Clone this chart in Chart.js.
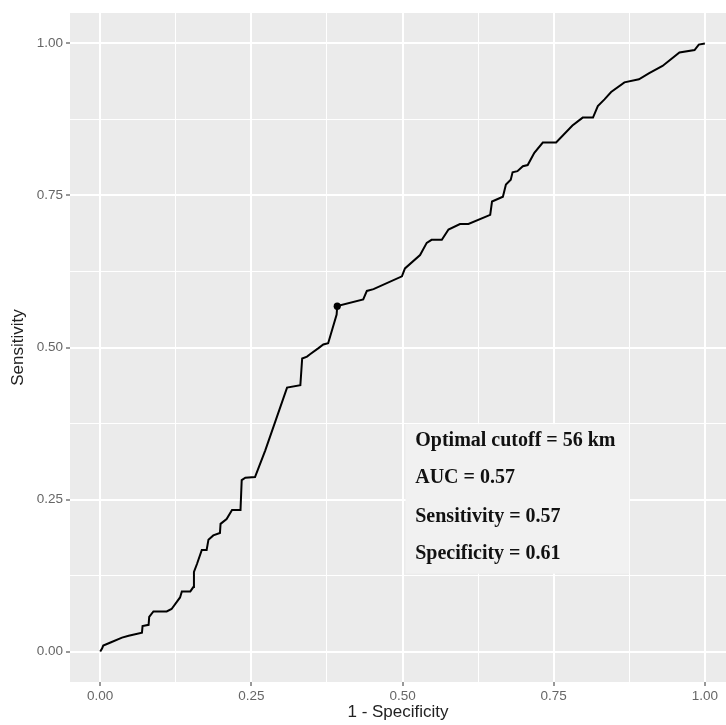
<!DOCTYPE html>
<html><head><meta charset="utf-8">
<script src="https://cdn.jsdelivr.net/npm/chart.js@4.4.1/dist/chart.umd.min.js"></script>
<style>html,body{margin:0;padding:0;background:#fff;overflow:hidden}#wrap{width:726px;height:725px;position:relative;overflow:hidden}</style>
</head><body><div id="wrap"><canvas id="c" width="730" height="725"></canvas></div>
<script>
// ROC curve: 1 - specificity (x) and sensitivity (y)
const fpr = [0, 0.003, 0.005, 0.017, 0.036, 0.047, 0.069, 0.070, 0.080, 0.081, 0.088, 0.110, 0.118, 0.132, 0.135, 0.149, 0.154, 0.155, 0.160, 0.168, 0.176, 0.179, 0.187, 0.198, 0.199, 0.209, 0.218, 0.232, 0.234, 0.240, 0.256, 0.273, 0.309, 0.331, 0.334, 0.342, 0.347, 0.361, 0.369, 0.377, 0.391, 0.392, 0.435, 0.441, 0.452, 0.499, 0.504, 0.529, 0.540, 0.548, 0.565, 0.576, 0.595, 0.609, 0.645, 0.648, 0.666, 0.671, 0.679, 0.682, 0.690, 0.699, 0.707, 0.718, 0.732, 0.754, 0.781, 0.798, 0.815, 0.823, 0.834, 0.845, 0.867, 0.891, 0.908, 0.930, 0.958, 0.983, 0.990, 1.0];
const tpr = [0, 0.005, 0.010, 0.015, 0.023, 0.026, 0.031, 0.042, 0.044, 0.057, 0.066, 0.066, 0.070, 0.089, 0.099, 0.099, 0.106, 0.131, 0.144, 0.167, 0.167, 0.184, 0.191, 0.195, 0.210, 0.218, 0.233, 0.233, 0.282, 0.286, 0.287, 0.331, 0.434, 0.438, 0.482, 0.485, 0.489, 0.499, 0.505, 0.507, 0.554, 0.568, 0.579, 0.593, 0.596, 0.617, 0.630, 0.652, 0.672, 0.677, 0.677, 0.694, 0.703, 0.703, 0.718, 0.740, 0.748, 0.768, 0.776, 0.788, 0.790, 0.798, 0.800, 0.820, 0.837, 0.837, 0.865, 0.878, 0.878, 0.897, 0.908, 0.920, 0.936, 0.941, 0.951, 0.963, 0.985, 0.989, 0.998, 1.0];
const optimalFpr = [0.392];
const optimalTpr = [0.568];
const gridTicks = [0, 0.125, 0.25, 0.375, 0.5, 0.625, 0.75, 0.875, 1];
const majorTicks = [0, 0.25, 0.5, 0.75, 1];
const annotationLines = ["Optimal cutoff = 56 km", "AUC = 0.57", "Sensitivity = 0.57", "Specificity = 0.61"];
const xTitle = "1 - Specificity";
const yTitle = "Sensitivity";

const curve = fpr.map((x, i) => ({x: x, y: tpr[i]}));
const optimal = optimalFpr.map((x, i) => ({x: x, y: optimalTpr[i]}));
const isMajor = v => majorTicks.some(m => Math.abs(m - v) < 1e-9);

const panelPlugin = {
  id: 'panel',
  beforeDraw(chart) {
    const {ctx, chartArea: a} = chart;
    ctx.save();
    ctx.fillStyle = '#EBEBEB';
    ctx.fillRect(a.left, a.top, a.right - a.left, a.bottom - a.top);
    ctx.restore();
  },
  afterDatasetsDraw(chart) {
    const {ctx, scales: {x, y}} = chart;
    const bx0 = x.getPixelForValue(0.505), bx1 = x.getPixelForValue(0.875);
    const by0 = y.getPixelForValue(0.374), by1 = y.getPixelForValue(0.128);
    ctx.save();
    ctx.fillStyle = '#F1F1F1';
    ctx.fillRect(bx0, by0, bx1 - bx0, by1 - by0);
    ctx.fillStyle = '#111';
    ctx.font = 'bold 20px "Liberation Serif", "Times New Roman", serif';
    ctx.textBaseline = 'middle';
    ctx.textAlign = 'left';
    const tx = x.getPixelForValue(0.521);
    const ly = [0.346, 0.285, 0.222, 0.161];
    annotationLines.forEach((t, i) => ctx.fillText(t, tx, y.getPixelForValue(ly[i])));
    ctx.restore();
  }
};

function axisCommon(title, padTitle) {
  return {
    type: 'linear',
    afterBuildTicks: s => { s.ticks = gridTicks.map(v => ({value: v})); },
    border: {display: false},
    grid: {
      color: '#FFFFFF',
      lineWidth: c => (c.tick && isMajor(c.tick.value)) ? 2 : 1,
      drawTicks: true,
      tickLength: 4,
      tickWidth: 1,
      tickColor: c => (c.tick && isMajor(c.tick.value)) ? '#333333' : 'rgba(0,0,0,0)'
    },
    ticks: {
      autoSkip: false,
      maxRotation: 0,
      color: '#666666',
      font: {family: '"Liberation Sans", Arial, sans-serif', size: 13.5},
      callback: v => isMajor(v) ? v.toFixed(2) : ''
    },
    title: {
      display: true,
      text: title,
      color: '#222222',
      font: {family: '"Liberation Sans", Arial, sans-serif', size: 17},
      padding: padTitle
    }
  };
}

const xAxis = axisCommon(xTitle, {top: 0, bottom: 2});
xAxis.min = -0.05; xAxis.max = 1.035;
xAxis.ticks.padding = 2;
xAxis.afterFit = s => { s.height = 43; s.paddingLeft = 0; s.paddingRight = 0; };
const yAxis = axisCommon(yTitle, {top: 8, bottom: 0});
yAxis.min = -0.05; yAxis.max = 1.05;
yAxis.ticks.padding = 3;
yAxis.afterFit = s => { s.width = 70; s.paddingTop = 0; s.paddingBottom = 0; };

new Chart(document.getElementById('c'), {
  type: 'scatter',
  data: {
    datasets: [
      {data: curve, showLine: true, borderColor: '#000', borderWidth: 2, pointRadius: 0, tension: 0, fill: false},
      {data: optimal, showLine: false, pointRadius: 3.6, backgroundColor: '#000', borderColor: '#000', borderWidth: 0}
    ]
  },
  options: {
    responsive: false,
    animation: false,
    devicePixelRatio: 1,
    layout: {padding: {top: 13, right: 0, left: 0, bottom: 0}},
    plugins: {legend: {display: false}, tooltip: {enabled: false}},
    scales: {x: xAxis, y: yAxis}
  },
  plugins: [panelPlugin]
});
</script></body></html>
